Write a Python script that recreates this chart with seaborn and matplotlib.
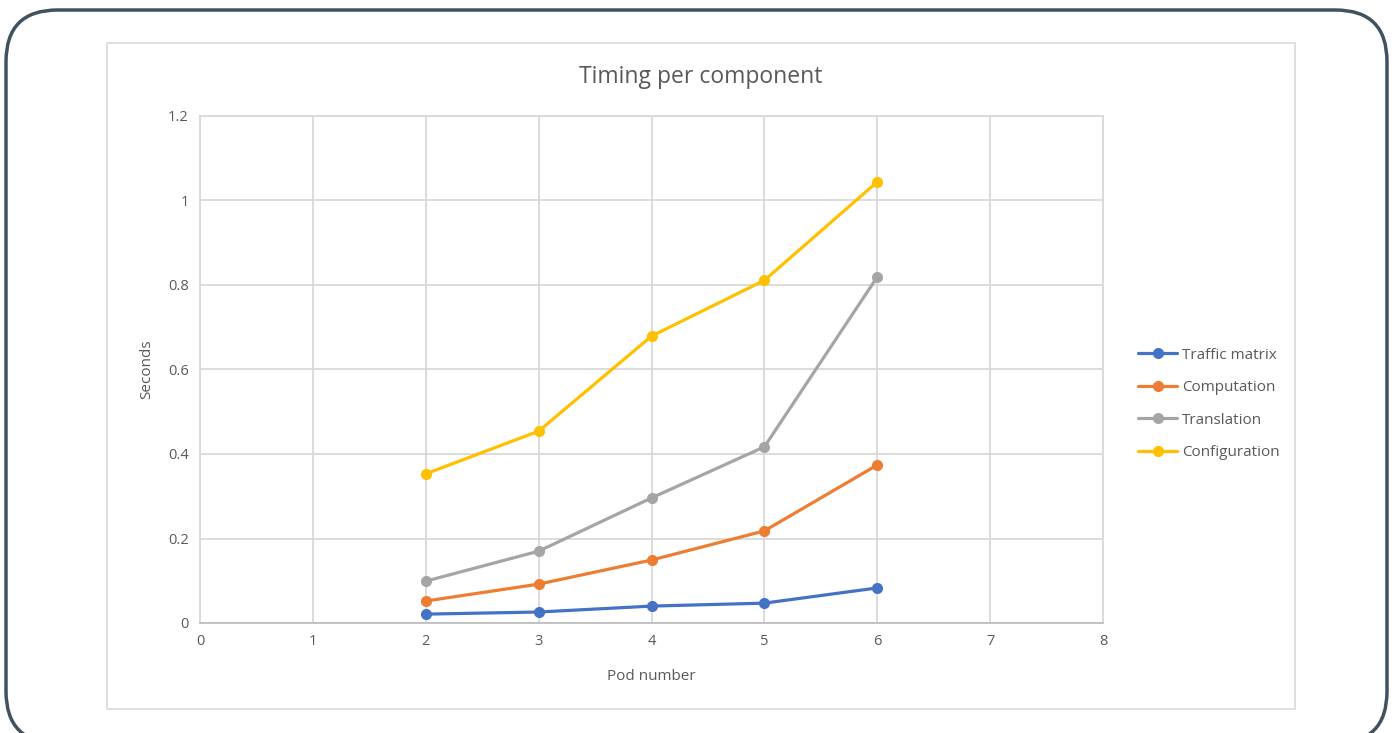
import numpy as np
import pandas as pd
import matplotlib
matplotlib.use("Agg")
import matplotlib.pyplot as plt
from matplotlib.patches import FancyBboxPatch, Rectangle
import seaborn as sns

# Data
pods = [2, 3, 4, 5, 6]
traffic_matrix = [0.021, 0.026, 0.040, 0.047, 0.083]
computation = [0.052, 0.092, 0.149, 0.218, 0.374]
translation = [0.099, 0.170, 0.296, 0.417, 0.819]
configuration = [0.353, 0.454, 0.679, 0.811, 1.044]

series_names = ["Traffic matrix", "Computation", "Translation", "Configuration"]
colors = ["#4472C4", "#ED7D31", "#A5A5A5", "#FFC000"]


def main():
    df = pd.DataFrame({
        "Pod number": pods * 4,
        "Seconds": traffic_matrix + computation + translation + configuration,
        "Component": np.repeat(series_names, len(pods)),
    })

    sns.set_theme(style="white")
    plt.rcParams["font.family"] = ["Open Sans", "DejaVu Sans"]

    fig = plt.figure(figsize=(13.94, 7.33), dpi=100)

    # outer rounded frame and inner chart frame
    fig.patches.append(FancyBboxPatch(
        (6 / 1394, -10 / 733), 1381 / 1394, (743 - 10) / 733,
        boxstyle="round,pad=0,rounding_size=0.037", mutation_aspect=1394 / 733,
        transform=fig.transFigure, fill=False, edgecolor="#41525F", linewidth=2.5))
    fig.patches.append(Rectangle(
        (107 / 1394, (733 - 709) / 733), (1295 - 107) / 1394, (709 - 43) / 733,
        transform=fig.transFigure, fill=False, edgecolor="#D9D9D9", linewidth=1.2))

    ax = fig.add_axes([200 / 1394, (733 - 623) / 733, 903 / 1394, 507 / 733])
    sns.lineplot(data=df, x="Pod number", y="Seconds", hue="Component",
                 palette=colors, marker="o", markersize=8, markeredgewidth=0,
                 linewidth=2.3, ax=ax, legend=False)

    ax.set_xlim(0, 8)
    ax.set_ylim(0, 1.2)
    ax.set_xticks(range(0, 9))
    ax.set_yticks([0, 0.2, 0.4, 0.6, 0.8, 1.0, 1.2])
    ax.set_yticklabels(["0", "0.2", "0.4", "0.6", "0.8", "1", "1.2"])
    ax.grid(True, color="#D9D9D9", linewidth=1.3)
    ax.set_axisbelow(True)
    for s in ax.spines.values():
        s.set_color("#D9D9D9")
        s.set_linewidth(1.3)
    ax.spines["bottom"].set_color("#BFBFBF")
    ax.tick_params(axis="both", length=0, labelsize=10.5, labelcolor="#595959", pad=8)
    ax.set_xlabel("Pod number", fontsize=11, color="#595959", labelpad=14)
    ax.set_ylabel("Seconds", fontsize=11, color="#595959", labelpad=10)

    fig.text(701 / 1394, 1 - 77 / 733, "Timing per component", ha="center", va="center",
             fontsize=16.5, color="#595959")

    handles = [plt.Line2D([], [], color=c, marker="o", markersize=8, markeredgewidth=0,
                          linewidth=2.3) for c in colors]
    fig.legend(handles, series_names, loc="center left",
               bbox_to_anchor=(1124 / 1394, 1 - 404 / 733), frameon=False,
               fontsize=11, labelcolor="#595959", handlelength=2.6,
               handletextpad=0.3, labelspacing=1.15)

    fig.savefig("out.png", dpi=100)


if __name__ == "__main__":
    main()
